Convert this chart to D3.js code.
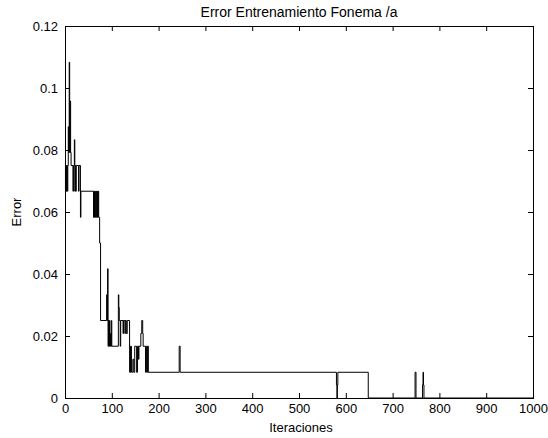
<!DOCTYPE html>
<html>
<head>
<meta charset="utf-8">
<script src="https://cdn.jsdelivr.net/npm/d3@7"></script>
<style>
  body { margin: 0; background: #fff; }
  svg text { font-family: "Liberation Sans", Arial, sans-serif; fill: #000; }
</style>
</head>
<body>
<div id="chart"></div>
<script>
// iteration where the error changes, and the error from that iteration on
const iterations = [0, 1, 2, 3, 4, 5, 6, 7, 8, 9, 10, 11, 12, 13, 17, 18, 20, 21, 22, 23, 24, 29, 30, 33, 34,
  61, 62, 63, 64, 65, 67, 68, 69, 70, 71, 72, 74, 76, 89, 90, 91, 92, 93, 94, 95, 96, 97, 98, 99, 100,
  114, 115, 116, 118, 119, 124, 125, 128, 129, 131, 133, 138, 140, 142, 145, 147, 149,
  153, 155, 157, 158, 162, 164, 166, 167, 172, 174, 176, 177, 178, 244, 246,
  580, 581, 582, 583, 648, 748, 750, 764, 765, 766, 767, 1000];
const errors = [0.075, 0.0667, 0.075, 0.0667, 0.075, 0.0667, 0.075, 0.0875, 0.0792, 0.1083, 0.0792, 0.0958, 0.0792, 0.075, 0.0667, 0.075, 0.0833, 0.0667, 0.075, 0.0667, 0.075, 0.0667, 0.075, 0.0583, 0.0667,
  0.0583, 0.0667, 0.0583, 0.0667, 0.0583, 0.0667, 0.0583, 0.0667, 0.0583, 0.0667, 0.0583, 0.05, 0.025, 0.0333, 0.025, 0.0417, 0.0167, 0.025, 0.0167, 0.025, 0.0167, 0.0208, 0.0167, 0.025, 0.0167,
  0.0333, 0.0292, 0.025, 0.0167, 0.025, 0.0208, 0.025, 0.0208, 0.025, 0.0208, 0.025, 0.0083, 0.0167, 0.0083, 0.0125, 0.0083, 0.0167,
  0.0083, 0.0167, 0.0125, 0.0167, 0.0208, 0.025, 0.0208, 0.0167, 0.0083, 0.0167, 0.0083, 0.0167, 0.0083, 0.0167, 0.0083,
  0.0042, 0, 0.0042, 0.0083, 0, 0.0083, 0, 0.0042, 0.0083, 0.0042, 0, 0];

const xTicks = [0, 100, 200, 300, 400, 500, 600, 700, 800, 900, 1000];
const yTicks = [0, 0.02, 0.04, 0.06, 0.08, 0.1, 0.12];

const titleText = 'Error Entrenamiento Fonema /a';
const xLabel = 'Iteraciones';
const yLabel = 'Error';

const W = 548, H = 438;
const mLeft = 65, mRight = 533, mTop = 26, mBottom = 398;

const svg = d3.select('#chart')
  .append('svg')
  .attr('width', W)
  .attr('height', H);

const x = d3.scaleLinear().domain([0, 1000]).range([mLeft, mRight]);
const y = d3.scaleLinear().domain([0, 0.12]).range([mBottom, mTop]);

const points = iterations.map((it, i) => [it, errors[i]]);

// error curve
svg.append('path')
  .datum(points)
  .attr('fill', 'none')
  .attr('stroke', '#000')
  .attr('stroke-width', 1)
  .attr('d', d3.line()
    .x(d => x(d[0]))
    .y(d => y(d[1]))
    .curve(d3.curveStepAfter));

const yFmt = d => String(+d.toFixed(2));

// axes, ticks pointing inwards like matlab
svg.append('g')
  .attr('transform', 'translate(0,' + mBottom + ')')
  .call(d3.axisBottom(x).tickValues(xTicks).tickSize(-5).tickPadding(6).tickFormat(d3.format('d')));
svg.append('g')
  .attr('transform', 'translate(0,' + mTop + ')')
  .call(d3.axisTop(x).tickValues(xTicks).tickSize(-5).tickFormat(''));
svg.append('g')
  .attr('transform', 'translate(' + mLeft + ',0)')
  .call(d3.axisLeft(y).tickValues(yTicks).tickSize(-5).tickPadding(7).tickFormat(yFmt));
svg.append('g')
  .attr('transform', 'translate(' + mRight + ',0)')
  .call(d3.axisRight(y).tickValues(yTicks).tickSize(-5).tickFormat(''));

svg.selectAll('.domain').remove();
svg.selectAll('.tick line').attr('stroke', '#000');
svg.selectAll('.tick text')
  .attr('fill', '#000')
  .style('font-size', '13px')
  .style('font-family', '"Liberation Sans", Arial, sans-serif');

// box
svg.append('rect')
  .attr('x', mLeft + 0.5)
  .attr('y', mTop + 0.5)
  .attr('width', mRight - mLeft)
  .attr('height', mBottom - mTop)
  .attr('fill', 'none')
  .attr('stroke', '#000')
  .attr('stroke-width', 1);

svg.append('text')
  .attr('x', (mLeft + mRight) / 2)
  .attr('y', 17)
  .attr('text-anchor', 'middle')
  .attr('fill', '#000')
  .style('font-size', '14px')
  .text(titleText);

svg.append('text')
  .attr('x', (mLeft + mRight) / 2 + 2)
  .attr('y', 432)
  .attr('text-anchor', 'middle')
  .attr('fill', '#000')
  .style('font-size', '13px')
  .text(xLabel);

svg.append('text')
  .attr('transform', 'translate(21,' + ((mTop + mBottom) / 2) + ') rotate(-90)')
  .attr('text-anchor', 'middle')
  .attr('fill', '#000')
  .style('font-size', '13px')
  .text(yLabel);
</script>
</body>
</html>
